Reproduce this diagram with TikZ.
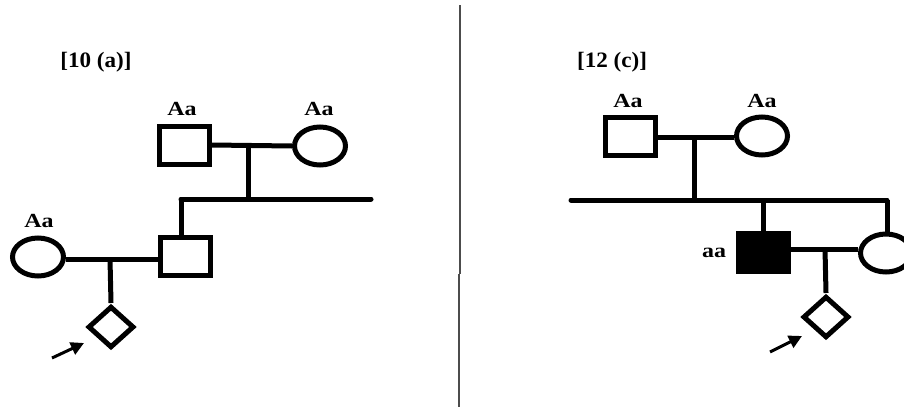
\documentclass[tikz,border=0pt]{standalone}
\usepackage{fontspec}
\setmainfont{Liberation Serif}
\usetikzlibrary{shapes.geometric,arrows.meta}
\begin{document}
\begin{tikzpicture}[x=1pt,y=-1pt,
  ln/.style={line width=5pt},
  male/.style={draw,line width=5pt,minimum width=50pt,minimum height=38pt,inner sep=0pt},
  affected/.style={male,fill=black},
  female/.style={draw,ellipse,line width=5pt,minimum width=51pt,minimum height=38pt,inner sep=0pt},
  unk/.style={draw,diamond,line width=5pt,minimum width=46pt,minimum height=35pt,inner sep=0pt,aspect=1.3,yscale=1.2},
  geno/.style={inner sep=0pt,font=\bfseries\fontsize{20}{20}\selectfont},
  ttl/.style={inner sep=0pt,font=\bfseries\fontsize{22}{22}\selectfont},
  proband/.style={line width=3pt,-{Triangle[length=13pt,width=13pt]}},
  divider/.style={line width=1.2pt,draw=black!70}
]
\clip (0,0) rectangle (904,407);
\fill[white] (0,0) rectangle (904,407);

% divider
\coordinate (v1) at (460,5);
\coordinate (v2) at (460,274);
\coordinate (v3) at (459,274);
\coordinate (v4) at (459,407);
\draw[divider] (v1) -- (v2);
\draw[divider] (v3) -- (v4);

% ---------- left panel ----------
\node[ttl] (t1) at (96,62) {\scalebox{1.05}[1]{[10 (a)]}};
\node[male] (f1) at (184,145) {};
\node[female] (m1) at (320,146) {};
\node[geno] (gf1) at (182,109) {\scalebox{1.2}[1]{Aa}};
\node[geno] (gm1) at (319,109) {\scalebox{1.2}[1]{Aa}};
\coordinate (j1) at (248,146);
\coordinate (s1) at (248,199);
\coordinate (s1L) at (181,199);
\coordinate (s1R) at (371,199);
\draw[ln] (f1.east) -- (m1.west);
\draw[ln] (j1) -- (s1);
\draw[ln,line cap=round] (s1R) -- (s1L);
\draw[ln] (s1L) -- (s1L |- 0,240);

\node[male] (f2) at (185,256) {};
\node[female] (m2) at (38,257) {};
\node[geno] (gm2) at (39,221) {\scalebox{1.2}[1]{Aa}};
\draw[ln] (m2.east |- 0,259) -- (f2.west |- 0,259);
\coordinate (j2) at (110,259);
\node[unk] (d1) at (111,327) {};
\draw[ln] (j2) -- (d1.north);
\coordinate (a1) at (52,358);
\coordinate (a1e) at (84,343);
\draw[proband] (a1) -- (a1e);

% ---------- right panel ----------
\node[ttl] (t2) at (612,62) {\scalebox{1.05}[1]{[12 (c)]}};
\node[male] (f3) at (630,136) {};
\node[female] (m3) at (762,136) {};
\node[geno] (gf3) at (628,101) {\scalebox{1.2}[1]{Aa}};
\node[geno] (gm3) at (762,101) {\scalebox{1.2}[1]{Aa}};
\coordinate (j3) at (694,137);
\coordinate (s3) at (694,200);
\coordinate (s3L) at (571,200);
\coordinate (s3R) at (887,200);
\draw[ln] (f3.east |- j3) -- (m3.west |- j3);
\draw[ln] (j3) -- (s3);
\draw[ln,line cap=round] (s3L) -- (s3R);

\node[affected] (f4) at (763,252) {};
\node[female] (m4) at (886,253) {};
\node[geno] (gf4) at (714,253) {\scalebox{1.2}[1]{aa}};
\coordinate (s3a) at (763,200);
\draw[ln] (s3a) -- (f4.north);
\draw[ln] (s3R) -- (s3R |- m4.north);
\draw[ln] (f4.east |- 0,249) -- (m4.west |- 0,249);
\coordinate (j4) at (825,249);
\node[unk] (d2) at (826,317) {};
\draw[ln] (j4) -- (d2.north);
\coordinate (a2) at (770,352);
\coordinate (a2e) at (802,336);
\draw[proband] (a2) -- (a2e);
\end{tikzpicture}
\end{document}
